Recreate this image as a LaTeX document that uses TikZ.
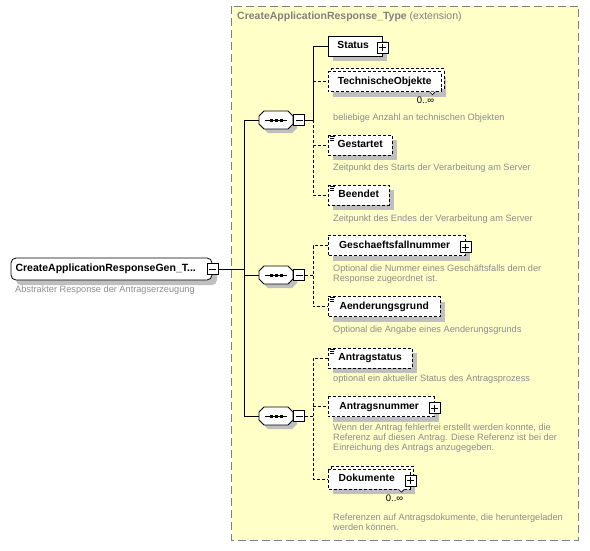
\documentclass[tikz,border=0pt]{standalone}
\usepackage{fontspec}
\setmainfont{Liberation Sans}
\definecolor{xsYellow}{HTML}{FFFFC8}
\definecolor{xsFrame}{HTML}{808080}
\colorlet{xsShade}{black!25}
\definecolor{xsNote}{HTML}{8C8C8C}
\usetikzlibrary{calc,positioning,shadows}

\tikzset{
  elem/.style={anchor=west, minimum height=20pt, inner xsep=8.5pt, inner ysep=0pt,
    text height=7.5pt, text depth=2.3pt, font=\fontsize{10.3}{12}\selectfont\bfseries},
  optional/.style={dash pattern=on 3pt off 2pt},
  many/.style={copy shadow={shadow xshift=3pt, shadow yshift=3pt, draw, fill=white, dash pattern=on 3pt off 2pt}},
  docicon/.style={path picture={
    \draw[solid, line width=0.6pt]
      ([xshift=1.5pt,yshift=-1.2pt]path picture bounding box.north west) -- ++(5pt,0pt)
      ([xshift=1.5pt,yshift=-3pt]path picture bounding box.north west) -- ++(4pt,0pt)
      ([xshift=1.5pt,yshift=-4.8pt]path picture bounding box.north west) -- ++(4pt,0pt);}},
  seqbox/.style={minimum width=34pt, minimum height=18pt, inner sep=0pt},
  minusbox/.style={draw, solid, fill=white, line width=0.8pt, minimum size=11pt, inner sep=0pt,
    path picture={\draw[line width=0.8pt] ([xshift=2pt]path picture bounding box.west) -- ([xshift=-2pt]path picture bounding box.east);}},
  plusbox/.style={minusbox, yshift=-1.5pt,
    path picture={\draw[line width=0.8pt] ([xshift=2pt]path picture bounding box.west) -- ([xshift=-2pt]path picture bounding box.east)
      ([yshift=-2pt]path picture bounding box.north) -- ([yshift=2pt]path picture bounding box.south);}},
  note/.style={font=\fontsize{9.2}{10}\selectfont, text=xsNote, anchor=north west, align=left, inner sep=0pt},
  mult/.style={font=\fontsize{9.5}{11}\selectfont, anchor=north east, inner sep=0pt},
  notch/.style={solid, fill=white, line width=0.6pt},
  conn/.style={line width=0.8pt}
}

% octagon of a sequence compositor round point #1, shifted by #2
\newcommand{\octpath}[2]{($(#1)+(-12,-9)+(#2)$) -- ($(#1)+(12,-9)+(#2)$) -- ($(#1)+(17,-4)+(#2)$) -- ($(#1)+(17,4)+(#2)$)
  -- ($(#1)+(12,9)+(#2)$) -- ($(#1)+(-12,9)+(#2)$) -- ($(#1)+(-17,4)+(#2)$) -- ($(#1)+(-17,-4)+(#2)$) -- cycle}
% element box with its shadow: [options]{name}{y}{width}{text}
\newcommand{\elemat}[5][]{%
  \fill[xsShade] (333,#3-5) -- (333+#4,#3-5) -- (333+#4,#3+15) -- (333,#3+15) -- cycle;
  \filldraw[fill=white, line width=0.8pt, #1] (328,#3-10) -- (328+#4,#3-10) -- (328+#4,#3+10) -- (328,#3+10) -- cycle;
  \node[elem, minimum width=#4pt] (#2) at (328,#3) {#5};}

\begin{document}
\begin{tikzpicture}[x=1pt, y=-1pt]
  \useasboundingbox (0,0) rectangle (590,550);

  % Type frame
  \draw[xsFrame, fill=xsYellow, line width=1pt, dash pattern=on 8pt off 4pt] (231.5,6) rectangle (578.5,540);
  \node[anchor=west, inner sep=0pt, text=xsFrame, font=\fontsize{10.5}{12}\selectfont] (typetitle) at (237,17)
    {\textbf{CreateApplicationResponse\_Type} (extension)};

  % Root element
  \fill[xsShade, rounded corners=5pt] (16,263) -- (217,263) -- (217,285) -- (16,285) -- cycle;
  \filldraw[fill=white, line width=0.8pt, rounded corners=5pt] (11,258) -- (212,258) -- (212,280) -- (11,280) -- cycle;
  \node[elem, minimum width=201pt, minimum height=22pt, inner xsep=4pt, font=\fontsize{10.5}{12}\selectfont\bfseries] (root) at (11,269)
    {CreateApplicationResponseGen\_T...\hspace*{12pt}};
  \node[minusbox] (rootminus) at (root.east) {};
  \node[note] (rootnote) at (15,286) {Abstrakter Response der Antragserzeugung};

  % Sequences
  \foreach \name/\y in {seq1/120, seq2/275, seq3/416} {
    \node[seqbox] (\name) at (276,\y) {};
    \fill[xsShade] \octpath{\name.center}{4,4};
    \filldraw[fill=white, line width=0.8pt] \octpath{\name.center}{0,0};
    \draw[line width=0.8pt] ([xshift=-11pt]\name.center) -- ([xshift=11pt]\name.center);
    \foreach \dx in {-5,0,5}
      \fill ([xshift=\dx pt]\name.center) +(-1.5pt,-1.5pt) rectangle +(1.5pt,1.5pt);
    \node[minusbox, anchor=west] (\name minus) at (\name.east) {};
  }

  % First sequence
  \elemat{status}{46}{54}{Status\hspace*{4pt}}
  \elemat[optional, many]{techobj}{81.5}{113}{TechnischeObjekte}
  \elemat[optional, docicon]{gestartet}{145}{64}{Gestartet}
  \elemat[optional, docicon]{beendet}{195}{61}{Beendet}
  \node[note] (techobjnote) at (333,114) {beliebige Anzahl an technischen Objekten};
  \node[note] (gestartetnote) at (333,164) {Zeitpunkt des Starts der Verarbeitung am Server};
  \node[note] (beendetnote) at (333,214.5) {Zeitpunkt des Endes der Verarbeitung am Server};

  % Second sequence
  \elemat[optional]{gfn}{245.5}{137}{Geschaeftsfallnummer\hspace*{4pt}}
  \elemat[optional, docicon]{aend}{306.5}{112}{Aenderungsgrund}
  \node[note] (gfnnote) at (333,264.5) {Optional die Nummer eines Geschäftsfalls dem der\\Response zugeordnet ist.};
  \node[note] (aendnote) at (333,325.5) {Optional die Angabe eines Aenderungsgrunds};

  % Third sequence
  \elemat[optional, docicon]{antragstatus}{358}{84}{Antragstatus}
  \elemat[optional]{antragsnummer}{406.5}{106}{Antragsnummer\hspace*{4pt}}
  \elemat[optional, many]{dokumente}{479}{82}{Dokumente\hspace*{5pt}}
  \node[note] (antragstatusnote) at (333,374.5) {optional ein aktueller Status des Antragsprozess};
  \node[note] (antragsnummernote) at (333,423.5) {Wenn der Antrag fehlerfrei erstellt werden konnte, die\\Referenz auf diesen Antrag. Diese Referenz ist bei der\\Einreichung des Antrags anzugegeben.};
  \node[note] (dokumentenote) at (333,513.5) {Referenzen auf Antragsdokumente, die heruntergeladen\\werden können.};

  % Plus boxes, multiplicities
  \foreach \n in {status,gfn,antragsnummer,dokumente}
    \node[plusbox] (\n plus) at (\n.east) {};
  \foreach \n in {techobj,dokumente} {
    \draw[notch] ([xshift=-12pt]\n.south east) -- ++(3,3) -- ++(3,-3);
    \node[mult] (\n mult) at ([xshift=-7pt,yshift=-5pt]\n.south east) {0..∞};
  }

  % Connectors
  \coordinate (spine) at (244,0);
  \coordinate (branch) at (313,0);
  \draw[conn] (rootminus.east) -- (rootminus.east -| spine);
  \draw[conn] (seq1.west) -| (spine |- seq3.west) -- (seq3.west);
  \draw[conn] (spine |- seq2.west) -- (seq2.west);

  \draw[conn] (seq1minus.east) -- (seq1minus.east -| branch);
  \draw[conn] (status.west) -| (branch |- seq1minus.east);
  \draw[conn, optional] (branch |- seq1minus.east) |- (beendet.west);
  \draw[conn, optional] (branch |- techobj.west) -- (techobj.west);
  \draw[conn, optional] (branch |- gestartet.west) -- (gestartet.west);

  \draw[conn, optional] (seq2minus.east) -- (seq2minus.east -| branch);
  \draw[conn, optional] (gfn.west) -| (branch |- aend.west) -- (aend.west);

  \draw[conn, optional] (seq3minus.east) -- (seq3minus.east -| branch);
  \draw[conn, optional] (antragstatus.west) -| (branch |- dokumente.west) -- (dokumente.west);
  \draw[conn, optional] (branch |- antragsnummer.west) -- (antragsnummer.west);
\end{tikzpicture}
\end{document}
